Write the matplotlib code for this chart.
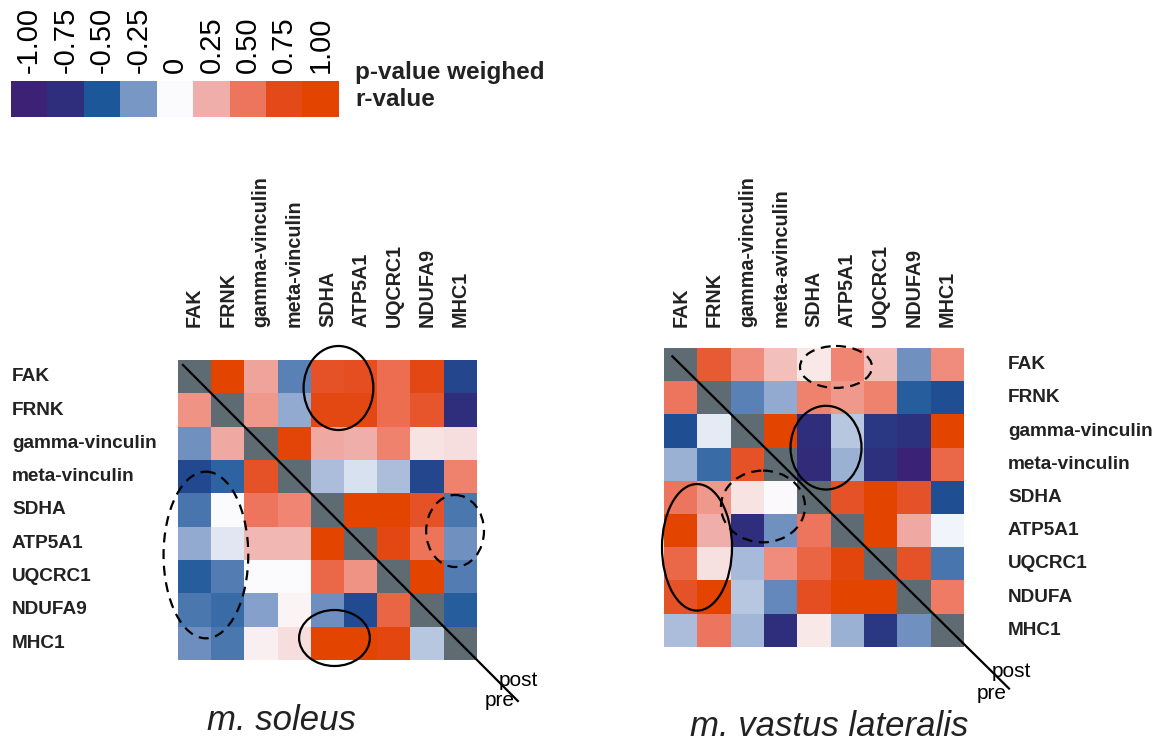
import numpy as np
import matplotlib
matplotlib.use("Agg")
import matplotlib.pyplot as plt
from matplotlib.colors import LinearSegmentedColormap
from matplotlib.patches import Ellipse
from matplotlib.transforms import blended_transform_factory

plt.rcParams['font.family'] = ['Liberation Sans', 'DejaVu Sans']

# legend / colour scale
legend_values = [-1.0, -0.75, -0.5, -0.25, 0.0, 0.25, 0.5, 0.75, 1.0]
legend_labels = ["-1.00", "-0.75", "-0.50", "-0.25", "0", "0.25", "0.50", "0.75", "1.00"]
legend_colors = ["#3d2175", "#2f2e7c", "#1c5799", "#7896c4", "#fcfdff",
                 "#f0b0ab", "#ef775f", "#e34a1a", "#e34400"]

# m. soleus
soleus_rows = ["FAK", "FRNK", "gamma-vinculin", "meta-vinculin", "SDHA", "ATP5A1", "UQCRC1", "NDUFA9", "MHC1"]
soleus_cols = ["FAK", "FRNK", "gamma-vinculin", "meta-vinculin", "SDHA", "ATP5A1", "UQCRC1", "NDUFA9", "MHC1"]
soleus_r = [
    [np.nan, 1.0, 0.3, -0.33, 0.7, 0.72, 0.55, 0.8, -0.6],
    [0.37, np.nan, 0.35, -0.2, 0.82, 0.82, 0.55, 0.68, -0.75],
    [-0.27, 0.28, np.nan, 0.92, 0.28, 0.25, 0.45, 0.08, 0.1],
    [-0.58, -0.45, 0.7, np.nan, -0.15, -0.07, -0.15, -0.6, 0.45],
    [-0.38, 0.0, 0.5, 0.43, np.nan, 1.0, 1.0, 0.7, -0.37],
    [-0.2, -0.05, 0.22, 0.22, 1.0, np.nan, 0.82, 0.52, -0.27],
    [-0.47, -0.35, 0.0, 0.0, 0.58, 0.37, np.nan, 1.0, -0.35],
    [-0.37, -0.42, -0.22, 0.03, -0.28, -0.57, 0.6, np.nan, -0.47],
    [-0.28, -0.37, 0.04, 0.1, 1.0, 1.0, 0.85, -0.13, np.nan],
]

# m. vastus lateralis
vastus_rows = ["FAK", "FRNK", "gamma-vinculin", "meta-vinculin", "SDHA", "ATP5A1", "UQCRC1", "NDUFA", "MHC1"]
vastus_cols = ["FAK", "FRNK", "gamma-vinculin", "meta-avinculin", "SDHA", "ATP5A1", "UQCRC1", "NDUFA9", "MHC1"]
vastus_r = [
    [np.nan, 0.65, 0.4, 0.2, 0.07, 0.43, 0.2, -0.27, 0.4],
    [0.5, np.nan, -0.33, -0.2, 0.45, 0.35, 0.45, -0.47, -0.55],
    [-0.55, -0.04, np.nan, 1.0, -0.75, -0.13, -0.68, -0.72, 1.0],
    [-0.18, -0.42, 0.7, np.nan, -0.8, -0.18, -0.73, -0.95, 0.58],
    [0.5, 0.35, 0.08, 0.01, np.nan, 0.7, 1.0, 0.7, -0.55],
    [1.0, 0.25, -0.75, -0.27, 0.5, np.nan, 1.0, 0.28, -0.02],
    [0.58, 0.09, -0.16, 0.4, 0.6, 0.88, np.nan, 0.7, -0.38],
    [0.7, 1.0, -0.13, -0.3, 0.72, 1.0, 1.0, np.nan, 0.48],
    [-0.15, 0.5, -0.17, -0.75, 0.07, -0.18, -0.68, -0.27, np.nan],
]

cmap = LinearSegmentedColormap.from_list(
    "rv", [((v + 1) / 2, c) for v, c in zip(legend_values, legend_colors)])
cmap.set_bad("#5f6b72")

W, H = 1165, 746
fig = plt.figure(figsize=(W / 100, H / 100), dpi=100)


def px_axes(x0, y0, x1, y1):
    return fig.add_axes([x0 / W, 1 - y1 / H, (x1 - x0) / W, (y1 - y0) / H])


txt_col = "#222222"


def heatmap(ax, data, rows, cols, label_x, title, title_xy, ellipses, line_end, post_xy, pre_xy):
    m = np.ma.masked_invalid(np.array(data))
    n = m.shape[0]
    ax.imshow(m, cmap=cmap, vmin=-1, vmax=1, aspect="auto", interpolation="nearest")
    ax.set_xticks([])
    ax.set_yticks([])
    for s in ax.spines.values():
        s.set_visible(False)
    tr_rows = blended_transform_factory(fig.transFigure, ax.transData)
    for i, r in enumerate(rows):
        ax.text(label_x / W, i, r, transform=tr_rows, ha="left", va="center",
                fontsize=13.7, fontweight="bold", color=txt_col)
    tr_cols = blended_transform_factory(ax.transData, fig.transFigure)
    for j, c in enumerate(cols):
        ax.text(j, 1 - 327 / H, c, transform=tr_cols, rotation=90, ha="center", va="bottom",
                fontsize=14.2, fontweight="bold", color=txt_col)
    for (cx, cy, w, h, ls) in ellipses:
        e = Ellipse((cx, cy), w, h, fill=False, edgecolor="black", linewidth=1.6,
                    linestyle=ls, clip_on=False)
        ax.add_patch(e)
    ax.plot([line_end[0], line_end[2]], [line_end[1], line_end[3]], color="black",
            linewidth=1.6, clip_on=False)
    ax.text(post_xy[0], post_xy[1], "post", ha="left", va="center", fontsize=15, clip_on=False)
    ax.text(pre_xy[0], pre_xy[1], "pre", ha="left", va="center", fontsize=15, clip_on=False)
    ax.set_xlim(-0.5, n - 0.5)
    ax.set_ylim(n - 0.5, -0.5)
    fig.text(title_xy[0] / W, 1 - title_xy[1] / H, title, ha="center", va="center",
             fontsize=25, style="italic", color=txt_col)


ax1 = px_axes(178, 360, 477, 660)
heatmap(ax1, soleus_r, soleus_rows, soleus_cols, 12, "m. soleus", (281, 720),
        [(4.33, 0.34, 2.1, 2.52, "-"), (4.21, 7.84, 2.13, 1.68, "-"),
         (0.34, 5.35, 2.55, 5.0, (0, (4.5, 3))), (7.84, 4.63, 1.74, 2.16, (0, (4.5, 3)))],
        (-0.35, -0.35, 9.73, 9.73), (9.16, 9.1), (8.74, 9.73))

ax2 = px_axes(664, 348, 964, 647)
heatmap(ax2, vastus_r, vastus_rows, vastus_cols, 1008, "m. vastus lateralis", (829, 727),
        [(4.66, 0.07, 2.16, 1.26, (0, (4.5, 3))), (4.36, 2.5, 2.13, 2.52, "-"),
         (2.47, 4.27, 2.52, 2.16, (0, (4.5, 3))), (0.49, 5.5, 2.1, 3.81, "-")],
        (-0.25, -0.25, 9.85, 9.75), (9.34, 9.25), (8.89, 9.91))

# legend swatches
axl = px_axes(11, 81, 339, 117)
axl.imshow(np.array([legend_values]), cmap=cmap, vmin=-1, vmax=1, aspect="auto",
           interpolation="nearest")
axl.set_yticks([])
axl.xaxis.tick_top()
axl.set_xticks(range(len(legend_labels)))
axl.set_xticklabels(legend_labels, rotation=90, fontsize=21)
axl.tick_params(axis="x", length=0, pad=6)
for s in axl.spines.values():
    s.set_visible(False)

fig.text(355 / W, 1 - 72 / H, "p-value weighed", ha="left", va="center",
         fontsize=17.5, fontweight="bold", color=txt_col)
fig.text(355 / W, 1 - 100 / H, "r-value", ha="left", va="center",
         fontsize=17.5, fontweight="bold", color=txt_col)

fig.savefig("out.png", dpi=100)
